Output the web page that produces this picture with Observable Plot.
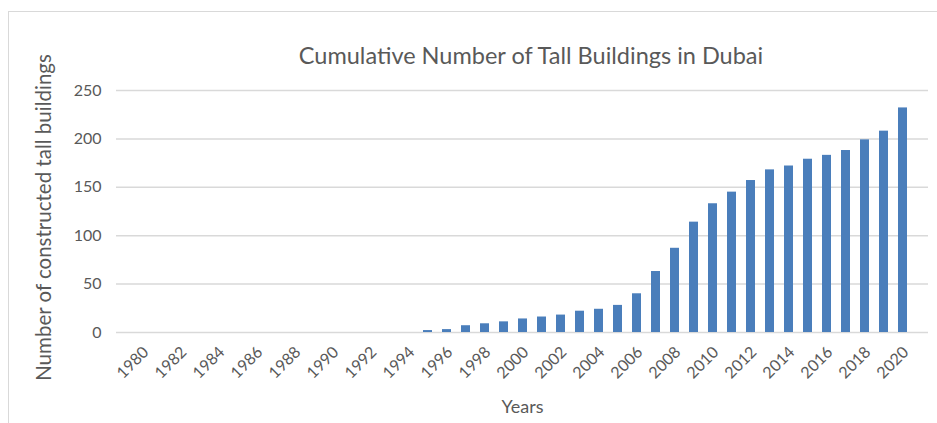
<!DOCTYPE html>
<html>
<head>
<meta charset="utf-8">
<script src="https://cdn.jsdelivr.net/npm/d3@7"></script>
<script src="https://cdn.jsdelivr.net/npm/@observablehq/plot@0.6"></script>
<style>
  html, body { margin: 0; padding: 0; background: #fff; }
  #wrap { position: relative; width: 937px; height: 423px; overflow: hidden; font-family: Lato, "Open Sans", sans-serif; }
  #frame { position: absolute; left: 8px; top: 11px; width: 1000px; height: 500px; border: 1px solid #d9d9d9; box-sizing: border-box; }
  #title { position: absolute; left: 0; top: 40px; width: 1062px; text-align: center; font-size: 23.5px; line-height: 30px; color: #595959; }
  #chart { position: absolute; left: 0; top: 70px; }
</style>
</head>
<body>
<div id="wrap">
  <div id="frame"></div>
  <div id="title"></div>
  <div id="chart"></div>
</div>
<script>
const years = d3.range(1980, 2021);
const buildings = [
  0, 0, 0, 0, 0, 0, 0, 0, 0, 0,
  0, 0, 0, 0, 0, 2, 3, 7, 9, 11,
  14, 16, 18, 22, 24, 28, 40, 63, 87, 114,
  133, 145, 157, 168, 172, 179, 183, 188, 199, 208,
  232
];
const yTicks = [0, 50, 100, 150, 200, 250];
const xTickYears = years.filter(y => y % 2 === 0);
const title = "Cumulative Number of Tall Buildings in Dubai";
const yLabel = "Number of constructed tall buildings";
const xLabel = "Years";

const data = years.map((y, i) => ({year: y, value: buildings[i]}));

const chart = Plot.plot({
  width: 937,
  height: 353,
  marginLeft: 116,
  marginRight: 9,
  marginTop: 20,
  marginBottom: 91,
  style: {fontFamily: "Lato, 'Open Sans', sans-serif", color: "#595959", background: "transparent", overflow: "visible"},
  x: {type: "band", domain: years, padding: 0.55, label: null},
  y: {domain: [0, 250], label: null},
  marks: [
    Plot.gridY(yTicks, {stroke: "#d9d9d9", strokeOpacity: 1, strokeWidth: 1.5}),
    Plot.barY(data, {x: "year", y: "value", fill: "#4a7ebb"}),
    Plot.axisY(yTicks, {tickSize: 0, tickPadding: 15, fontSize: 16, fill: "#595959", label: null}),
    Plot.axisX(xTickYears, {tickSize: 0, tickPadding: 17, dx: 3, tickRotate: -45, fontSize: 16, fill: "#595959", label: null, tickFormat: d => String(d)}),
    Plot.text([yLabel], {frameAnchor: "left", textAnchor: "middle", dx: -72, dy: 6, rotate: -90, fontSize: 20.5, fill: "#595959"}),
    Plot.text([xLabel], {frameAnchor: "bottom", dy: 80, fontSize: 18, fill: "#595959"})
  ]
});
document.getElementById("chart").appendChild(chart);
document.getElementById("title").textContent = title;
</script>
</body>
</html>
